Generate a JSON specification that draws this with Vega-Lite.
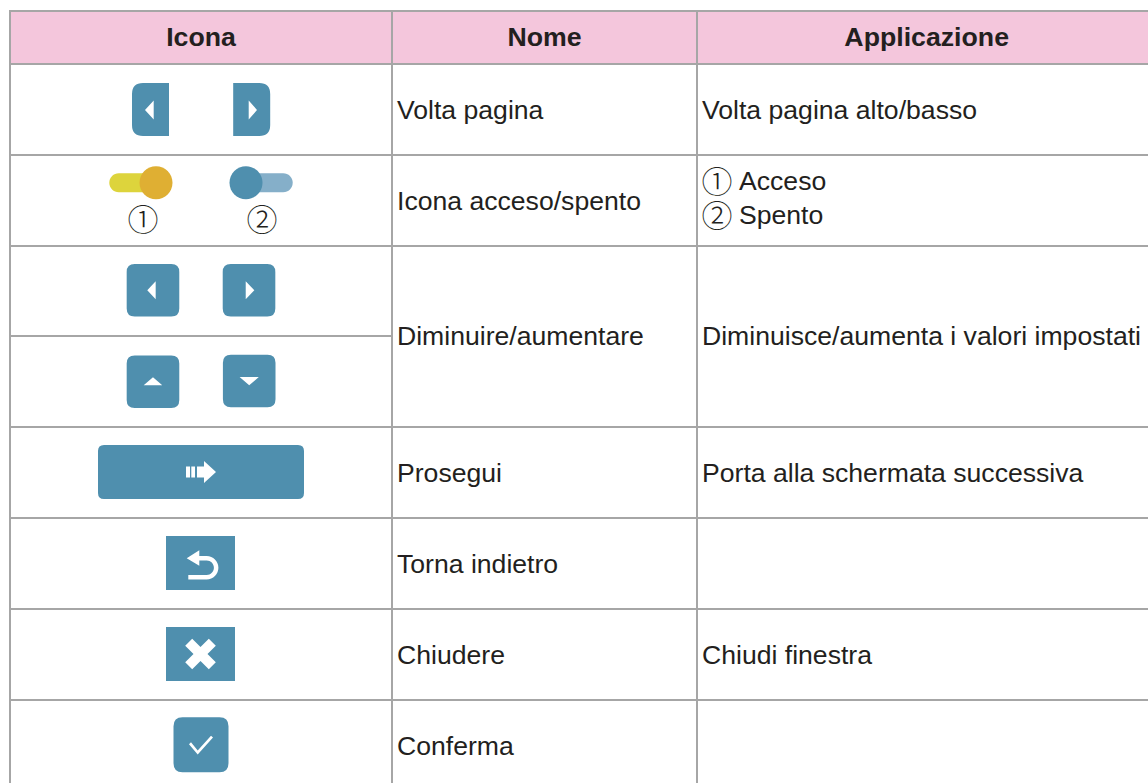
{
"$schema":"https://vega.github.io/schema/vega-lite/v6.json",
"width":1148,"height":783,"padding":0,"autosize":{"type":"none"},"background":"white",
"config":{"view":{"stroke":null}},
"datasets":{
"cells":[
{"col":0,"col2":1,"row":0,"row2":1,"kind":"header"},{"col":1,"col2":2,"row":0,"row2":1,"kind":"header"},{"col":2,"col2":3,"row":0,"row2":1,"kind":"header"},
{"col":0,"col2":1,"row":1,"row2":2,"kind":"body"},{"col":1,"col2":2,"row":1,"row2":2,"kind":"body"},{"col":2,"col2":3,"row":1,"row2":2,"kind":"body"},
{"col":0,"col2":1,"row":2,"row2":3,"kind":"body"},{"col":1,"col2":2,"row":2,"row2":3,"kind":"body"},{"col":2,"col2":3,"row":2,"row2":3,"kind":"body"},
{"col":0,"col2":1,"row":3,"row2":4,"kind":"body"},{"col":0,"col2":1,"row":4,"row2":5,"kind":"body"},{"col":1,"col2":2,"row":3,"row2":5,"kind":"body"},{"col":2,"col2":3,"row":3,"row2":5,"kind":"body"},
{"col":0,"col2":1,"row":5,"row2":6,"kind":"body"},{"col":1,"col2":2,"row":5,"row2":6,"kind":"body"},{"col":2,"col2":3,"row":5,"row2":6,"kind":"body"},
{"col":0,"col2":1,"row":6,"row2":7,"kind":"body"},{"col":1,"col2":2,"row":6,"row2":7,"kind":"body"},{"col":2,"col2":3,"row":6,"row2":7,"kind":"body"},
{"col":0,"col2":1,"row":7,"row2":8,"kind":"body"},{"col":1,"col2":2,"row":7,"row2":8,"kind":"body"},{"col":2,"col2":3,"row":7,"row2":8,"kind":"body"},
{"col":0,"col2":1,"row":8,"row2":9,"kind":"body"},{"col":1,"col2":2,"row":8,"row2":9,"kind":"body"},{"col":2,"col2":3,"row":8,"row2":9,"kind":"body"}
],
"icons":[
{"icon":"pageL","tone":"blue","col":0.3678,"row":1.5},
{"icon":"pageR","tone":"blue","col":0.6327,"row":1.5},
{"icon":"track","tone":"yellow","col":0.3332,"row":2.3044},
{"icon":"knob","tone":"orange","col":0.3822,"row":2.3044},
{"icon":"track","tone":"light","col":0.6668,"row":2.3044},
{"icon":"knob","tone":"blue","col":0.6178,"row":2.3044},
{"icon":"left","tone":"blue","col":0.3743,"row":3.492},
{"icon":"right","tone":"blue","col":0.6257,"row":3.492},
{"icon":"up","tone":"blue","col":0.3743,"row":4.502},
{"icon":"down","tone":"blue","col":0.6262,"row":4.495},
{"icon":"next","tone":"blue","col":0.5,"row":5.495},
{"icon":"back","tone":"blue","col":0.4987,"row":6.495},
{"icon":"close","tone":"blue","col":0.4987,"row":7.495},
{"icon":"check","tone":"blue","col":0.5,"row":8.492}
],
"digits":[
{"label":"①","col":0.3482,"row":2.703},
{"label":"②","col":0.6597,"row":2.703},
{"label":"①","col":2.0442,"row":2.286},
{"label":"②","col":2.0442,"row":2.659}
],
"headers":[
{"label":"Icona","col":0.5,"row":0.5},
{"label":"Nome","col":1.5,"row":0.5},
{"label":"Applicazione","col":2.507,"row":0.5}
],
"body":[
{"label":"Volta pagina","col":1,"row":1.5},
{"label":"Volta pagina alto/basso","col":2,"row":1.5},
{"label":"Icona acceso/spento","col":1,"row":2.5},
{"label":"Acceso","col":2.0817,"row":2.286},
{"label":"Spento","col":2.0817,"row":2.659},
{"label":"Diminuire/aumentare","col":1,"row":4},
{"label":"Diminuisce/aumenta i valori impostati","col":2,"row":4},
{"label":"Prosegui","col":1,"row":5.5},
{"label":"Porta alla schermata successiva","col":2,"row":5.5},
{"label":"Torna indietro","col":1,"row":6.5},
{"label":"Chiudere","col":1,"row":7.5},
{"label":"Chiudi finestra","col":2,"row":7.5},
{"label":"Conferma","col":1,"row":8.5}
]
},
"encoding":{
"x":{"field":"col","type":"quantitative","axis":null,"scale":{"domain":[0,1,2,3],"range":[10,392,697,1150],"nice":false,"zero":false}},
"y":{"field":"row","type":"quantitative","axis":null,"scale":{"domain":[0,1,2,3,4,5,6,7,8,9],"range":[11,64,155,246,336,427,518,609,700,791],"nice":false,"zero":false}}
},
"layer":[
{"data":{"name":"cells"},"mark":{"type":"rect","stroke":"#A6A6A6","strokeWidth":2},
"encoding":{"x2":{"field":"col2"},"y2":{"field":"row2"},
"fill":{"field":"kind","type":"nominal","legend":null,"scale":{"domain":["header","body"],"range":["#F4C6DC","#FFFFFF"]}}}},
{"data":{"name":"icons"},"mark":{"type":"point","filled":true,"opacity":1,"strokeWidth":0,"size":4},
"encoding":{
"color":{"field":"tone","type":"nominal","legend":null,"scale":{"domain":["blue","light","yellow","orange"],"range":["#4F8FAE","#85AFC9","#DDD43C","#DFAF33"]}},
"shape":{"field":"icon","type":"nominal","legend":null,"scale":{
"domain":["pageL","pageR","track","knob","left","right","up","down","next","back","close","check"],
"range":[
"M-7.5,-26.5 H18.5 V26.5 H-7.5 Q-18.5,26.5 -18.5,15.5 V-15.5 Q-18.5,-26.5 -7.5,-26.5 Z M-5.5,0.5 L3.2,10 L3.2,-9 Z",
"M-18.5,-26.5 H7.5 Q18.5,-26.5 18.5,-15.5 V15.5 Q18.5,26.5 7.5,26.5 H-18.5 Z M5.3,0.5 L-3,-9 L-3,10 Z",
"M-18.5,-9.5 H18.5 C23.7,-9.5 28,-5.3 28,0 C28,5.3 23.7,9.5 18.5,9.5 H-18.5 C-23.7,9.5 -28,5.3 -28,0 C-28,-5.3 -23.7,-9.5 -18.5,-9.5 Z",
"M0,-16.5 C9.1,-16.5 16.5,-9.1 16.5,0 C16.5,9.1 9.1,16.5 0,16.5 C-9.1,16.5 -16.5,9.1 -16.5,0 C-16.5,-9.1 -9.1,-16.5 0,-16.5 Z",
"M-18.3,-26.3 H18.3 Q26.3,-26.3 26.3,-18.3 V18.3 Q26.3,26.3 18.3,26.3 H-18.3 Q-26.3,26.3 -26.3,18.3 V-18.3 Q-26.3,-26.3 -18.3,-26.3 Z M-5.7,0 L2.7,9 L2.7,-9 Z",
"M-18.3,-26.3 H18.3 Q26.3,-26.3 26.3,-18.3 V18.3 Q26.3,26.3 18.3,26.3 H-18.3 Q-26.3,26.3 -26.3,18.3 V-18.3 Q-26.3,-26.3 -18.3,-26.3 Z M5.3,0 L-3.3,-9 L-3.3,9 Z",
"M-18.3,-26.3 H18.3 Q26.3,-26.3 26.3,-18.3 V18.3 Q26.3,26.3 18.3,26.3 H-18.3 Q-26.3,26.3 -26.3,18.3 V-18.3 Q-26.3,-26.3 -18.3,-26.3 Z M0,-4.4 L-9.3,3.6 L9.3,3.6 Z",
"M-18.3,-26.3 H18.3 Q26.3,-26.3 26.3,-18.3 V18.3 Q26.3,26.3 18.3,26.3 H-18.3 Q-26.3,26.3 -26.3,18.3 V-18.3 Q-26.3,-26.3 -18.3,-26.3 Z M0,4.3 L9.6,-4 L-9.6,-4 Z",
"M-97,-27 H97 Q103,-27 103,-21 V21 Q103,27 97,27 H-97 Q-103,27 -103,21 V-21 Q-103,-27 -97,-27 Z M-15,-5.5 V5.5 H-11 V-5.5 Z M-9.7,-5.5 V5.5 H-6 V-5.5 Z M15,0 L3,-11 L3,-5.5 L-4,-5.5 L-4,5.5 L3,5.5 L3,11 Z",
"M-34.5,-27 H34.5 V27 H-34.5 Z M-13.8,-4.7 L-1.2,2.7 L-1.2,-2.5 H6.2 C10.2,-2.5 13.4,0.7 13.4,4.7 C13.4,8.7 10.2,11.9 6.2,11.9 H-12.2 V16.4 H6.2 C12.65,16.4 17.9,11.15 17.9,4.7 C17.9,-1.75 12.65,-7 6.2,-7 H-1.2 V-12.7 Z",
"M-34.5,-27 H34.5 V27 H-34.5 Z M0,-7 L-8.3,-15.3 L-15.3,-8.3 L-7,0 L-15.3,8.3 L-8.3,15.3 L0,7 L8.3,15.3 L15.3,8.3 L7,0 L15.3,-8.3 L8.3,-15.3 Z",
"M-18.5,-27.5 H18.5 Q27.5,-27.5 27.5,-18.5 V18.5 Q27.5,27.5 18.5,27.5 H-18.5 Q-27.5,27.5 -27.5,18.5 V-18.5 Q-27.5,-27.5 -18.5,-27.5 Z M-12,-0.5 L-3.3,9.8 L12,-7.2 L10,-9 L-3.3,5.8 L-10,-2.4 Z"
]}}}},
{"data":{"name":"digits"},"mark":{"type":"text","font":"Noto Sans CJK JP","fontSize":31,"fontWeight":300,"align":"center","baseline":"middle","dy":3,"color":"#231F20"},
"encoding":{"text":{"field":"label"}}},
{"data":{"name":"headers"},"mark":{"type":"text","font":"Liberation Sans","fontSize":26.7,"fontWeight":"bold","align":"center","baseline":"middle","color":"#231F20"},
"encoding":{"text":{"field":"label"}}},
{"data":{"name":"body"},"mark":{"type":"text","font":"Liberation Sans","fontSize":26.6,"align":"left","baseline":"middle","dx":5,"dy":1,"color":"#231F20"},
"encoding":{"text":{"field":"label"}}}
]
}
